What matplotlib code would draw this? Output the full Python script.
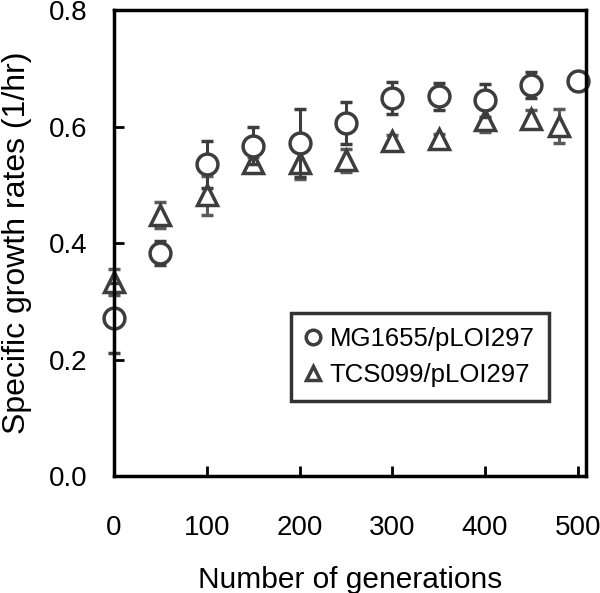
import matplotlib
matplotlib.use("Agg")
import matplotlib.pyplot as plt

plt.rcParams['font.family'] = ['Liberation Sans', 'DejaVu Sans']

# MG1655/pLOI297
gen_mg = [0, 50, 100, 150, 200, 250, 300, 350, 400, 450, 500]
rate_mg = [0.271, 0.383, 0.535, 0.567, 0.572, 0.606, 0.649, 0.652, 0.645, 0.671, 0.678]
err_mg = [0.06, 0.02, 0.04, 0.032, 0.058, 0.036, 0.028, 0.023, 0.028, 0.022, 0.015]

# TCS099/pLOI297
gen_tcs = [0, 50, 100, 150, 200, 250, 300, 350, 400, 450, 480]
rate_tcs = [0.333, 0.448, 0.482, 0.537, 0.537, 0.542, 0.575, 0.578, 0.611, 0.613, 0.601]
err_tcs = [0.022, 0.022, 0.034, 0.01, 0.027, 0.02, 0.01, 0.01, 0.02, 0.015, 0.029]

dark = '#3d3d3d'
grey = '#5a5a5a'

fig = plt.figure(figsize=(6.0, 5.93), dpi=100)
ax = fig.add_axes([0.19, 0.197, 0.787, 0.786])

tcs = ax.errorbar(gen_tcs, rate_tcs, yerr=err_tcs, fmt='^', ms=15, mfc='white',
                  mec=dark, mew=2.5, ecolor=grey, elinewidth=2.2, capsize=4.5, capthick=2.2,
                  label='TCS099/pLOI297', zorder=3)
mg = ax.errorbar(gen_mg, rate_mg, yerr=err_mg, fmt='o', ms=15, mfc='white',
                 mec=dark, mew=2.5, ecolor=dark, elinewidth=2.2, capsize=4.5, capthick=2.2,
                 label='MG1655/pLOI297', zorder=4)
# markers sitting on the axis edges are drawn whole in the original
for c in (tcs, mg):
    for art in c.get_children():
        art.set_clip_on(False)

ax.set_xlim(0, 509)
ax.set_ylim(0, 0.8)
ax.set_xticks([0, 100, 200, 300, 400, 500])
ax.set_yticks([0.0, 0.2, 0.4, 0.6, 0.8])
ax.set_yticklabels(['0.0', '0.2', '0.4', '0.6', '0.8'])
ax.tick_params(direction='in', length=7, width=2, labelsize=20, color='black')
ax.tick_params(axis='x', pad=28)
ax.tick_params(axis='y', pad=19)
for s in ax.spines.values():
    s.set_linewidth(2.5)
    s.set_color('black')
    s.set_zorder(5)

ax.set_xlabel('Number of generations', fontsize=21.5, labelpad=18)
ax.set_ylabel('Specific growth rates (1/hr)', fontsize=23, labelpad=12)

h, l = ax.get_legend_handles_labels()
h = [x[0] for x in h][::-1]
l = l[::-1]
leg = ax.legend(h, l, loc='upper left', bbox_to_anchor=(0.375, 0.35),
                fontsize=18.5, frameon=True, fancybox=False, edgecolor='black',
                handlelength=0.6, handletextpad=0.35, borderpad=0.55,
                borderaxespad=0, labelspacing=0.45, markerscale=0.7)
leg.get_frame().set_linewidth(2.5)

fig.savefig('out.png', dpi=100)
